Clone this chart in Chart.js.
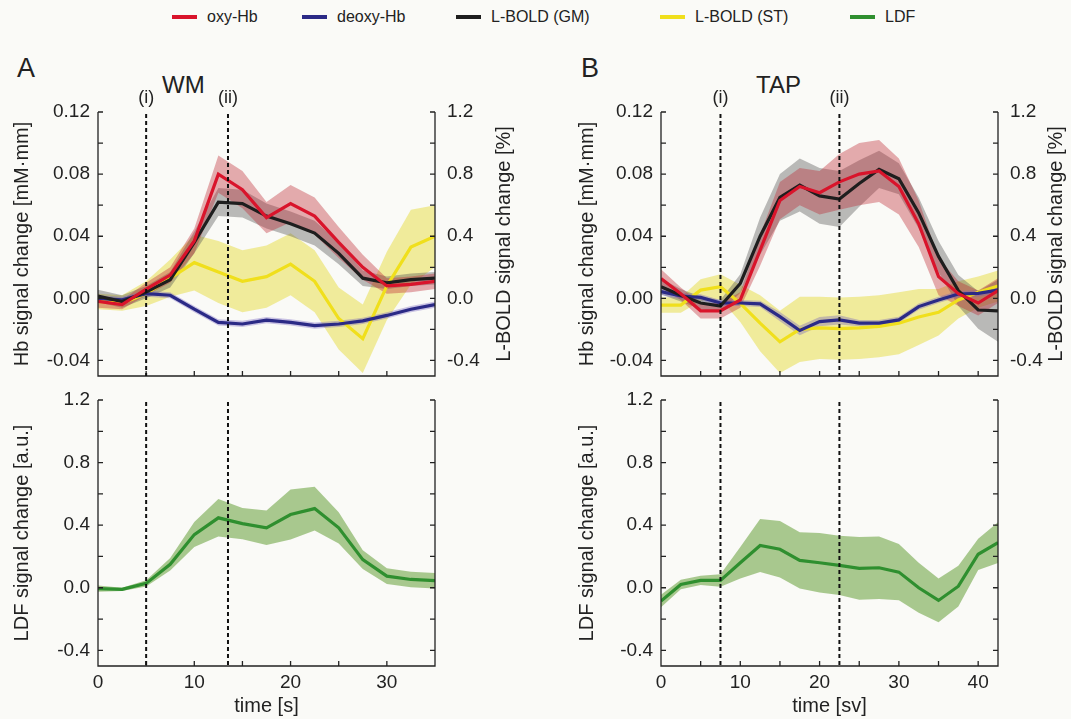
<!DOCTYPE html>
<html>
<head>
<meta charset="utf-8">
<script src="https://cdn.jsdelivr.net/npm/chart.js@4.4.1/dist/chart.umd.min.js"></script>
<style>
  body { margin: 0; background: #fafaf7; font-family: "Liberation Sans", Arial, sans-serif; color: #222; }
  #page { position: relative; width: 1071px; height: 719px; overflow: hidden; }
  canvas { position: absolute; }
  .txt { position: absolute; white-space: nowrap; line-height: 1; }
  .leg { position: absolute; top: 9px; font-size: 16px; line-height: 16px; display: flex; align-items: center; }
  .leg span.sw { display: inline-block; width: 25px; height: 4px; margin-right: 10px; }
</style>
</head>
<body>
<div id="page">
  <div id="legend"></div>
  <div class="txt" style="left:17px;top:55px;font-size:27px;">A</div>
  <div class="txt" style="left:581px;top:55px;font-size:27px;">B</div>
  <div class="txt" style="left:162px;top:73px;font-size:24px;">WM</div>
  <div class="txt" style="left:756px;top:73px;font-size:24px;">TAP</div>
  <canvas id="aTop" width="560" height="305" style="left:0;top:80px"></canvas>
  <canvas id="bTop" width="511" height="305" style="left:560px;top:80px"></canvas>
  <canvas id="aBot" width="560" height="334" style="left:0;top:385px"></canvas>
  <canvas id="bBot" width="511" height="334" style="left:560px;top:385px"></canvas>
</div>
<script>
// legend
const seriesNames = ['oxy-Hb', 'deoxy-Hb', 'L-BOLD (GM)', 'L-BOLD (ST)', 'LDF'];
const seriesColors = ['#d9142b', '#2b2a86', '#1e1e1e', '#f0df1c', '#2f8f2f'];
const bandColors = ['rgba(190,40,50,0.38)', 'rgba(110,90,190,0.35)', 'rgba(80,80,80,0.38)', 'rgba(232,222,80,0.55)', 'rgba(118,170,78,0.62)'];

// tick values
const hbTicks = [-0.04, -0.02, 0, 0.02, 0.04, 0.06, 0.08, 0.10, 0.12];
const pctTicks = [-0.4, -0.2, 0, 0.2, 0.4, 0.6, 0.8, 1.0, 1.2];
const ldfTicks = [-0.4, -0.2, 0, 0.2, 0.4, 0.6, 0.8, 1.0, 1.2];
const timeTicksA = [0, 5, 10, 15, 20, 25, 30, 35];
const timeTicksB = [0, 5, 10, 15, 20, 25, 30, 35, 40];

// time axes
const timeA = [0, 2.5, 5, 7.5, 10, 12.5, 15, 17.5, 20, 22.5, 25, 27.5, 30, 32.5, 35];
const timeB = [0, 2.5, 5, 7.5, 10, 12.5, 15, 17.5, 20, 22.5, 25, 27.5, 30, 32.5, 35, 37.5, 40, 42.5];
const eventsA = [5, 13.5];
const eventsB = [7.5, 22.5];
const eventLabels = ['(i)', '(ii)'];

// WM panel (A)
const oxyA      = [-0.002, -0.004, 0.006, 0.015, 0.037, 0.080, 0.070, 0.052, 0.061, 0.053, 0.036, 0.020, 0.008, 0.009, 0.011];
const oxyAErr   = [0.004, 0.003, 0.004, 0.005, 0.008, 0.012, 0.012, 0.010, 0.012, 0.012, 0.010, 0.008, 0.005, 0.005, 0.005];
const deoxyA    = [0.000, -0.001, 0.003, 0.002, -0.007, -0.0155, -0.0165, -0.014, -0.0155, -0.0175, -0.0165, -0.0145, -0.011, -0.007, -0.004];
const deoxyAErr = [0.002, 0.002, 0.002, 0.002, 0.002, 0.002, 0.002, 0.002, 0.002, 0.002, 0.002, 0.002, 0.002, 0.002, 0.002];
const gmA       = [0.015, -0.02, 0.04, 0.12, 0.36, 0.62, 0.61, 0.53, 0.48, 0.42, 0.29, 0.13, 0.10, 0.12, 0.13];
const gmAErr    = [0.04, 0.04, 0.04, 0.05, 0.07, 0.09, 0.09, 0.08, 0.08, 0.08, 0.07, 0.05, 0.04, 0.04, 0.04];
const stA       = [-0.02, -0.03, 0.03, 0.13, 0.23, 0.17, 0.11, 0.14, 0.22, 0.11, -0.13, -0.26, 0.08, 0.33, 0.40];
const stAErr    = [0.05, 0.05, 0.08, 0.12, 0.18, 0.2, 0.2, 0.2, 0.2, 0.2, 0.2, 0.22, 0.22, 0.24, 0.2];
const ldfA      = [-0.006, -0.01, 0.028, 0.15, 0.34, 0.447, 0.41, 0.383, 0.468, 0.506, 0.383, 0.18, 0.074, 0.053, 0.045];
const ldfAErr   = [0.02, 0.01, 0.02, 0.04, 0.08, 0.12, 0.1, 0.11, 0.16, 0.14, 0.1, 0.06, 0.05, 0.05, 0.05];

// TAP panel (B)
const oxyB      = [0.0128, 0.003, -0.008, -0.008, -0.001, 0.031, 0.063, 0.072, 0.068, 0.075, 0.080, 0.082, 0.072, 0.048, 0.014, 0.003, -0.003, 0.005];
const oxyBErr   = [0.006, 0.004, 0.005, 0.005, 0.005, 0.010, 0.012, 0.012, 0.014, 0.018, 0.020, 0.020, 0.018, 0.015, 0.012, 0.008, 0.008, 0.008];
const deoxyB    = [0.0043, 0.0015, 0.0006, -0.003, -0.003, -0.0036, -0.0118, -0.0207, -0.015, -0.0139, -0.016, -0.016, -0.0139, -0.0053, -0.001, 0.0028, 0.0032, 0.0053];
const deoxyBErr = [0.002, 0.002, 0.002, 0.002, 0.002, 0.002, 0.003, 0.003, 0.003, 0.003, 0.002, 0.002, 0.002, 0.002, 0.002, 0.002, 0.002, 0.002];
const gmB       = [0.075, 0.02, -0.03, -0.05, 0.096, 0.40, 0.65, 0.73, 0.66, 0.64, 0.74, 0.83, 0.77, 0.55, 0.27, 0.05, -0.075, -0.08];
const gmBErr    = [0.05, 0.04, 0.04, 0.04, 0.06, 0.12, 0.15, 0.17, 0.18, 0.18, 0.15, 0.12, 0.1, 0.1, 0.1, 0.1, 0.12, 0.2];
const stB       = [-0.043, -0.043, 0.053, 0.075, -0.032, -0.16, -0.28, -0.2, -0.19, -0.195, -0.19, -0.18, -0.16, -0.12, -0.09, -0.01, 0.04, 0.08];
const stBErr    = [0.05, 0.05, 0.07, 0.08, 0.12, 0.18, 0.2, 0.21, 0.2, 0.2, 0.2, 0.2, 0.2, 0.18, 0.15, 0.12, 0.1, 0.1];
const ldfB      = [-0.085, 0.021, 0.047, 0.047, 0.16, 0.27, 0.246, 0.175, 0.16, 0.143, 0.124, 0.128, 0.1, 0.0, -0.081, 0.01, 0.214, 0.289];
const ldfBErr   = [0.04, 0.03, 0.03, 0.04, 0.1, 0.17, 0.18, 0.18, 0.19, 0.19, 0.2, 0.2, 0.18, 0.16, 0.14, 0.13, 0.1, 0.13];

Chart.defaults.font.family = '"Liberation Sans", Arial, sans-serif';
Chart.defaults.color = '#222';
Chart.defaults.animation = false;

// legend (html text)
const legendLeft = [172, 302, 456, 660, 850];
const legend = document.getElementById('legend');
seriesNames.forEach((name, i) => {
  const d = document.createElement('div');
  d.className = 'leg';
  d.style.left = legendLeft[i] + 'px';
  d.innerHTML = '<span class="sw" style="background:' + seriesColors[i] + '"></span>' + name;
  legend.appendChild(d);
});

function band(xs, mean, err, axis, color) {
  return [
    { data: xs.map((x, i) => ({ x: x, y: mean[i] + err[i] })), yAxisID: axis, borderWidth: 0, pointRadius: 0, backgroundColor: color, fill: '+1' },
    { data: xs.map((x, i) => ({ x: x, y: mean[i] - err[i] })), yAxisID: axis, borderWidth: 0, pointRadius: 0, fill: false }
  ];
}
function line(xs, vals, axis, color) {
  return { data: xs.map((x, i) => ({ x: x, y: vals[i] })), yAxisID: axis, borderColor: color, borderWidth: 3.2, pointRadius: 0, fill: false, tension: 0 };
}
// back to front
function ordered(list) {
  list.forEach((d, i) => { d.order = list.length - i; });
  return list;
}

// box with inward ticks, dashed event lines, right-hand title
const matlabAxes = {
  id: 'matlab',
  afterDraw(chart, args, opts) {
    const ctx = chart.ctx, a = chart.chartArea, sx = chart.scales.x, sy = chart.scales.y;
    ctx.save();
    ctx.strokeStyle = '#222';
    ctx.lineWidth = 1.3;
    ctx.beginPath();
    ctx.moveTo(a.left, a.top); ctx.lineTo(a.left, a.bottom);
    ctx.lineTo(a.right, a.bottom); ctx.lineTo(a.right, a.top);
    sx.ticks.forEach(t => {
      const p = sx.getPixelForValue(t.value);
      ctx.moveTo(p, a.bottom); ctx.lineTo(p, a.bottom - 5);
    });
    sy.ticks.forEach(t => {
      const p = sy.getPixelForValue(t.value);
      ctx.moveTo(a.left, p); ctx.lineTo(a.left + 5, p);
      ctx.moveTo(a.right, p); ctx.lineTo(a.right - 5, p);
    });
    ctx.stroke();

    ctx.setLineDash([4, 3]);
    ctx.lineWidth = 2;
    ctx.strokeStyle = '#111';
    ctx.font = '18px "Liberation Sans", Arial, sans-serif';
    ctx.fillStyle = '#222';
    ctx.textAlign = 'center';
    ctx.textBaseline = 'middle';
    opts.events.forEach((ev, i) => {
      const p = sx.getPixelForValue(ev);
      ctx.beginPath();
      ctx.moveTo(p, a.top + 2); ctx.lineTo(p, a.bottom);
      ctx.stroke();
      if (opts.labels) ctx.fillText(eventLabels[i], p, a.top - 14);
    });
    ctx.setLineDash([]);

    if (opts.rightTitle) {
      ctx.font = '20px "Liberation Sans", Arial, sans-serif';
      ctx.translate(a.right + opts.rightOffset, (a.top + a.bottom) / 2);
      ctx.rotate(-Math.PI / 2);
      ctx.fillText(opts.rightTitle, 0, 0);
    }
    ctx.restore();
  }
};

const tickFont = { size: 19 };
const titleFont = { size: 20 };

function useTicks(values) {
  return s => { s.ticks = values.map(v => ({ value: v })); };
}

function xScale(max, tickValues, showLabels) {
  return {
    type: 'linear', min: 0, max: max,
    grid: { display: false, drawTicks: false }, border: { display: false },
    afterBuildTicks: useTicks(tickValues),
    ticks: {
      display: showLabels, autoSkip: false, maxRotation: 0,
      padding: 5, font: tickFont,
      callback: v => (v % 10 === 0 ? String(v) : '')
    },
    title: showLabels ? { display: true, text: 'time [' + (max > 40 ? 'sv' : 's') + ']', font: titleFont, padding: { top: 0, bottom: 1 } } : { display: false },
    afterFit: s => { s.height = showLabels ? 53 : 9; s.paddingLeft = 0; s.paddingRight = 0; }
  };
}
function yLeft(min, max, tickValues, step, digits, title, leftWidth, titlePad) {
  return {
    type: 'linear', position: 'left', min: min, max: max,
    grid: { display: false, drawTicks: false }, border: { display: false },
    afterBuildTicks: useTicks(tickValues),
    ticks: {
      autoSkip: false, padding: 8, font: tickFont,
      callback: v => (Math.round(v / step) % 2 === 0 ? v.toFixed(digits) : '')
    },
    title: { display: true, text: title, font: titleFont, padding: { top: titlePad, bottom: 0 } },
    afterFit: s => { s.width = leftWidth; s.paddingTop = 0; s.paddingBottom = 0; }
  };
}
function yRight(width) {
  return {
    type: 'linear', position: 'right', min: -0.5, max: 1.2,
    grid: { display: false, drawTicks: false }, border: { display: false },
    afterBuildTicks: useTicks(pctTicks),
    ticks: {
      autoSkip: false, padding: 12, font: tickFont,
      callback: v => (Math.round(v / 0.2) % 2 === 0 ? v.toFixed(1) : '')
    },
    afterFit: s => { s.width = width; s.paddingTop = 0; s.paddingBottom = 0; }
  };
}

function topChart(id, xs, d, xMax, xTicks, events, leftWidth, rightWidth, titlePad, rightOffset) {
  const datasets = ordered([].concat(
    band(xs, d.st, d.stErr, 'y1', bandColors[3]),
    band(xs, d.gm, d.gmErr, 'y1', bandColors[2]),
    band(xs, d.oxy, d.oxyErr, 'y', bandColors[0]),
    band(xs, d.deoxy, d.deoxyErr, 'y', bandColors[1]),
    [line(xs, d.st, 'y1', seriesColors[3]),
     line(xs, d.deoxy, 'y', seriesColors[1]),
     line(xs, d.gm, 'y1', seriesColors[2]),
     line(xs, d.oxy, 'y', seriesColors[0])]
  ));
  return new Chart(document.getElementById(id), {
    type: 'line',
    data: { datasets: datasets },
    options: {
      responsive: false, devicePixelRatio: 1,
      layout: { padding: { top: 32, left: 0, right: 0, bottom: 0 } },
      scales: {
        x: xScale(xMax, xTicks, false),
        y: yLeft(-0.05, 0.12, hbTicks, 0.02, 2, 'Hb signal change [mM\u00b7mm]', leftWidth, titlePad),
        y1: yRight(rightWidth)
      },
      plugins: {
        legend: { display: false }, tooltip: { enabled: false },
        matlab: { events: events, labels: true, rightTitle: 'L-BOLD signal change [%]', rightOffset: rightOffset }
      }
    },
    plugins: [matlabAxes]
  });
}

function bottomChart(id, xs, vals, err, xMax, xTicks, events, leftWidth, rightPad, titlePad) {
  const datasets = ordered([].concat(
    band(xs, vals, err, 'y', bandColors[4]),
    [line(xs, vals, 'y', seriesColors[4])]
  ));
  return new Chart(document.getElementById(id), {
    type: 'line',
    data: { datasets: datasets },
    options: {
      responsive: false, devicePixelRatio: 1,
      layout: { padding: { top: 15, left: 0, right: rightPad, bottom: 0 } },
      scales: {
        x: xScale(xMax, xTicks, true),
        y: yLeft(-0.5, 1.2, ldfTicks, 0.2, 1, 'LDF signal change [a.u.]', leftWidth, titlePad)
      },
      plugins: {
        legend: { display: false }, tooltip: { enabled: false },
        matlab: { events: events, labels: false }
      }
    },
    plugins: [matlabAxes]
  });
}

topChart('aTop', timeA,
  { oxy: oxyA, oxyErr: oxyAErr, deoxy: deoxyA, deoxyErr: deoxyAErr, gm: gmA, gmErr: gmAErr, st: stA, stErr: stAErr },
  35, timeTicksA, eventsA, 98, 125, 10, 69);
topChart('bTop', timeB,
  { oxy: oxyB, oxyErr: oxyBErr, deoxy: deoxyB, deoxyErr: deoxyBErr, gm: gmB, gmErr: gmBErr, st: stB, stErr: stBErr },
  42.5, timeTicksB, eventsB, 101, 73, 15, 58);
bottomChart('aBot', timeA, ldfA, ldfAErr, 35, timeTicksA, eventsA, 98, 125, 10);
bottomChart('bBot', timeB, ldfB, ldfBErr, 42.5, timeTicksB, eventsB, 101, 73, 15);
</script>
</body>
</html>
